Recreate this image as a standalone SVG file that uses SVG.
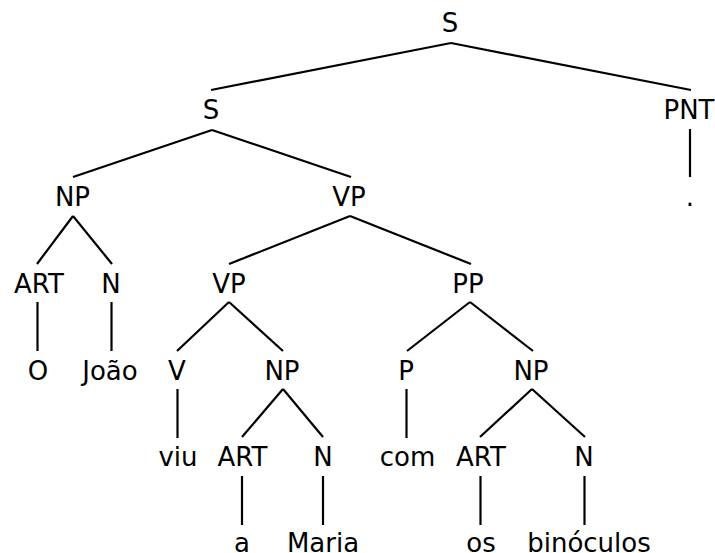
<svg xmlns="http://www.w3.org/2000/svg" width="715" height="553" viewBox="0 0 715 553">
  <style>
    text { font-family: "DejaVu Sans", "Liberation Sans", sans-serif; font-size: 26px; fill: #000; text-anchor: middle; }
    .edge { stroke: #000; stroke-width: 2.2; fill: none; stroke-linecap: butt; }
  </style>
  <rect width="715" height="553" fill="#fff"/>

  <!-- tree branches -->
  <g id="connectors">
    <line class="edge" x1="451" y1="43" x2="211" y2="90"/>
    <line class="edge" x1="451" y1="43" x2="691" y2="90"/>
    <line class="edge" x1="212" y1="130" x2="73" y2="177"/>
    <line class="edge" x1="212" y1="130" x2="351" y2="177"/>
    <line class="edge" x1="690" y1="129" x2="690" y2="177"/>
    <line class="edge" x1="73" y1="216" x2="37" y2="264"/>
    <line class="edge" x1="73" y1="216" x2="112" y2="264"/>
    <line class="edge" x1="350" y1="216" x2="229" y2="264"/>
    <line class="edge" x1="350" y1="216" x2="471" y2="264"/>
    <line class="edge" x1="37.5" y1="302" x2="37.5" y2="351"/>
    <line class="edge" x1="111.5" y1="302" x2="111.5" y2="351"/>
    <line class="edge" x1="229" y1="302" x2="177" y2="351"/>
    <line class="edge" x1="229" y1="302" x2="283" y2="351"/>
    <line class="edge" x1="470" y1="302" x2="407" y2="351"/>
    <line class="edge" x1="470" y1="302" x2="533" y2="351"/>
    <line class="edge" x1="177.5" y1="389" x2="177.5" y2="438"/>
    <line class="edge" x1="283" y1="389" x2="242" y2="437"/>
    <line class="edge" x1="283" y1="389" x2="323" y2="437"/>
    <line class="edge" x1="406.5" y1="389" x2="406.5" y2="438"/>
    <line class="edge" x1="532" y1="389" x2="480" y2="437"/>
    <line class="edge" x1="532" y1="389" x2="585" y2="437"/>
    <line class="edge" x1="242" y1="476" x2="242" y2="525"/>
    <line class="edge" x1="323" y1="476" x2="323" y2="525"/>
    <line class="edge" x1="480.5" y1="476" x2="480.5" y2="525"/>
    <line class="edge" x1="584.5" y1="476" x2="584.5" y2="525"/>
  </g>

  <!-- phrase and word nodes -->
  <g id="s-root"><text x="450" y="32">S</text></g>
  <g id="s-clause"><text x="211" y="119">S</text></g>
  <g id="pnt"><text x="689" y="119">PNT</text></g>
  <g id="np-subj"><text x="72.5" y="206">NP</text></g>
  <g id="vp-main"><text x="349" y="206">VP</text></g>
  <g id="punct"><text x="690" y="206">.</text></g>
  <g id="art-subj"><text x="39" y="293">ART</text></g>
  <g id="n-subj"><text x="111" y="293">N</text></g>
  <g id="vp-inner"><text x="229" y="293">VP</text></g>
  <g id="pp"><text x="468" y="293">PP</text></g>
  <g id="word-o"><text x="38" y="380">O</text></g>
  <g id="word-joao"><text x="110" y="380">João</text></g>
  <g id="v"><text x="177" y="380">V</text></g>
  <g id="np-obj"><text x="282" y="380">NP</text></g>
  <g id="p"><text x="406" y="380">P</text></g>
  <g id="np-pp"><text x="531" y="380">NP</text></g>
  <g id="word-viu"><text x="178" y="466">viu</text></g>
  <g id="art-obj"><text x="242.5" y="466">ART</text></g>
  <g id="n-obj"><text x="323" y="466">N</text></g>
  <g id="word-com"><text x="407.5" y="466">com</text></g>
  <g id="art-pp"><text x="481" y="466">ART</text></g>
  <g id="n-pp"><text x="584" y="466">N</text></g>
  <g id="word-a"><text x="242" y="552">a</text></g>
  <g id="word-maria"><text x="323" y="552">Maria</text></g>
  <g id="word-os"><text x="481" y="552">os</text></g>
  <g id="word-binoculos"><text x="589" y="552">binóculos</text></g>
</svg>
